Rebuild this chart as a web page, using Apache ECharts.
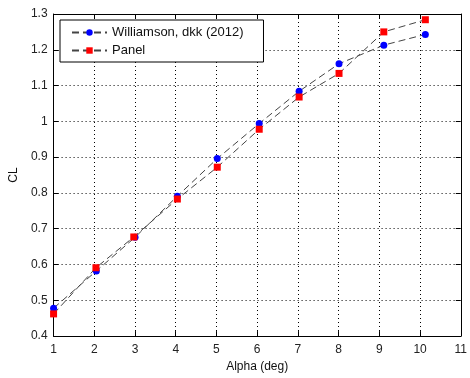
<!DOCTYPE html>
<html><head><meta charset="utf-8">
<script src="https://cdn.jsdelivr.net/npm/echarts@6/dist/echarts.min.js"></script>
<style>html,body{margin:0;padding:0;background:#fff}#c{width:470px;height:378px}</style>
</head><body><div id="c"></div>
<script>
var seriesNames = ['Williamson, dkk (2012)', 'Panel'];
var williamsonAlpha = [1, 2.05, 3, 4.04, 5.02, 6.05, 7.03, 8.01, 9.11, 10.13];
var williamsonCL = [0.478, 0.582, 0.676, 0.791, 0.896, 0.994, 1.084, 1.161, 1.213, 1.243];
var panelAlpha = [1, 2.04, 2.97, 4.04, 5.02, 6.05, 7.03, 8.01, 9.11, 10.13];
var panelCL = [0.462, 0.591, 0.677, 0.783, 0.872, 0.978, 1.068, 1.134, 1.250, 1.284];
var xTicks = [1, 2, 3, 4, 5, 6, 7, 8, 9, 10, 11];
var yTicks = [0.4, 0.5, 0.6, 0.7, 0.8, 0.9, 1, 1.1, 1.2, 1.3];

function pairs(xs, ys) { return xs.map(function (x, i) { return [x, ys[i]]; }); }

var chart = echarts.init(document.getElementById('c'));
var font = 'Liberation Sans, Arial, sans-serif';
var lineStyle = { color: '#444', width: 1, type: [7, 4] };
function axisCommon(extra) {
  return Object.assign({
    axisLine: { show: true, onZero: false, lineStyle: { color: '#000', width: 1 } },
    axisTick: { show: true, inside: true, length: 5, lineStyle: { color: '#000' } },
    splitLine: { show: false },
    axisLabel: { color: '#222', fontSize: 12, fontFamily: font }
  }, extra);
}
chart.setOption({
  animation: false,
  backgroundColor: '#fff',
  grid: { left: 51, right: 3, top: 14, bottom: 38, containLabel: false },
  legend: {
    show: true,
    orient: 'vertical',
    left: 60, top: 20,
    width: 183,
    backgroundColor: '#fff',
    borderColor: '#000', borderWidth: 1,
    padding: [6, 20, 5, 11],
    itemGap: 5,
    itemWidth: 35, itemHeight: 8,
    textStyle: { color: '#111', fontSize: 13, fontFamily: font },
    data: seriesNames
  },
  xAxis: [
    axisCommon({
      type: 'value', min: 1, max: 11, interval: 1, position: 'bottom',
      name: 'Alpha (deg)', nameLocation: 'middle', nameGap: 20,
      nameTextStyle: { color: '#111', fontSize: 12, fontFamily: font },
      axisLabel: { color: '#222', fontSize: 12, fontFamily: font, margin: 8 },
      splitLine: { show: true, lineStyle: { color: '#000', width: 1, type: [1, 3] } }
    }),
    axisCommon({ type: 'value', min: 1, max: 11, interval: 1, position: 'top', axisLabel: { show: false } })
  ],
  yAxis: [
    axisCommon({
      type: 'value', min: 0.4, max: 1.3, interval: 0.1, position: 'left',
      name: 'CL', nameLocation: 'middle', nameGap: 29, nameRotate: 90,
      nameTextStyle: { color: '#111', fontSize: 12, fontFamily: font },
      axisLabel: { color: '#222', fontSize: 12, fontFamily: font, margin: 6,
        formatter: function (v) { return yTicks.indexOf(Math.round(v * 10) / 10) >= 0 ? String(Math.round(v * 10) / 10) : ''; } },
      splitLine: { show: true, lineStyle: { color: '#000', width: 1, type: [1, 3] } }
    }),
    axisCommon({ type: 'value', min: 0.4, max: 1.3, interval: 0.1, position: 'right', axisLabel: { show: false } })
  ],
  series: [
    {
      name: seriesNames[0], type: 'line', xAxisIndex: 0, yAxisIndex: 0,
      data: pairs(williamsonAlpha, williamsonCL),
      symbol: 'circle', symbolSize: 7,
      itemStyle: { color: '#0000ff' },
      lineStyle: lineStyle
    },
    {
      name: seriesNames[1], type: 'line', xAxisIndex: 0, yAxisIndex: 0,
      data: pairs(panelAlpha, panelCL),
      symbol: 'rect', symbolSize: 7,
      itemStyle: { color: '#ff0000' },
      lineStyle: lineStyle
    }
  ]
});
</script></body></html>
